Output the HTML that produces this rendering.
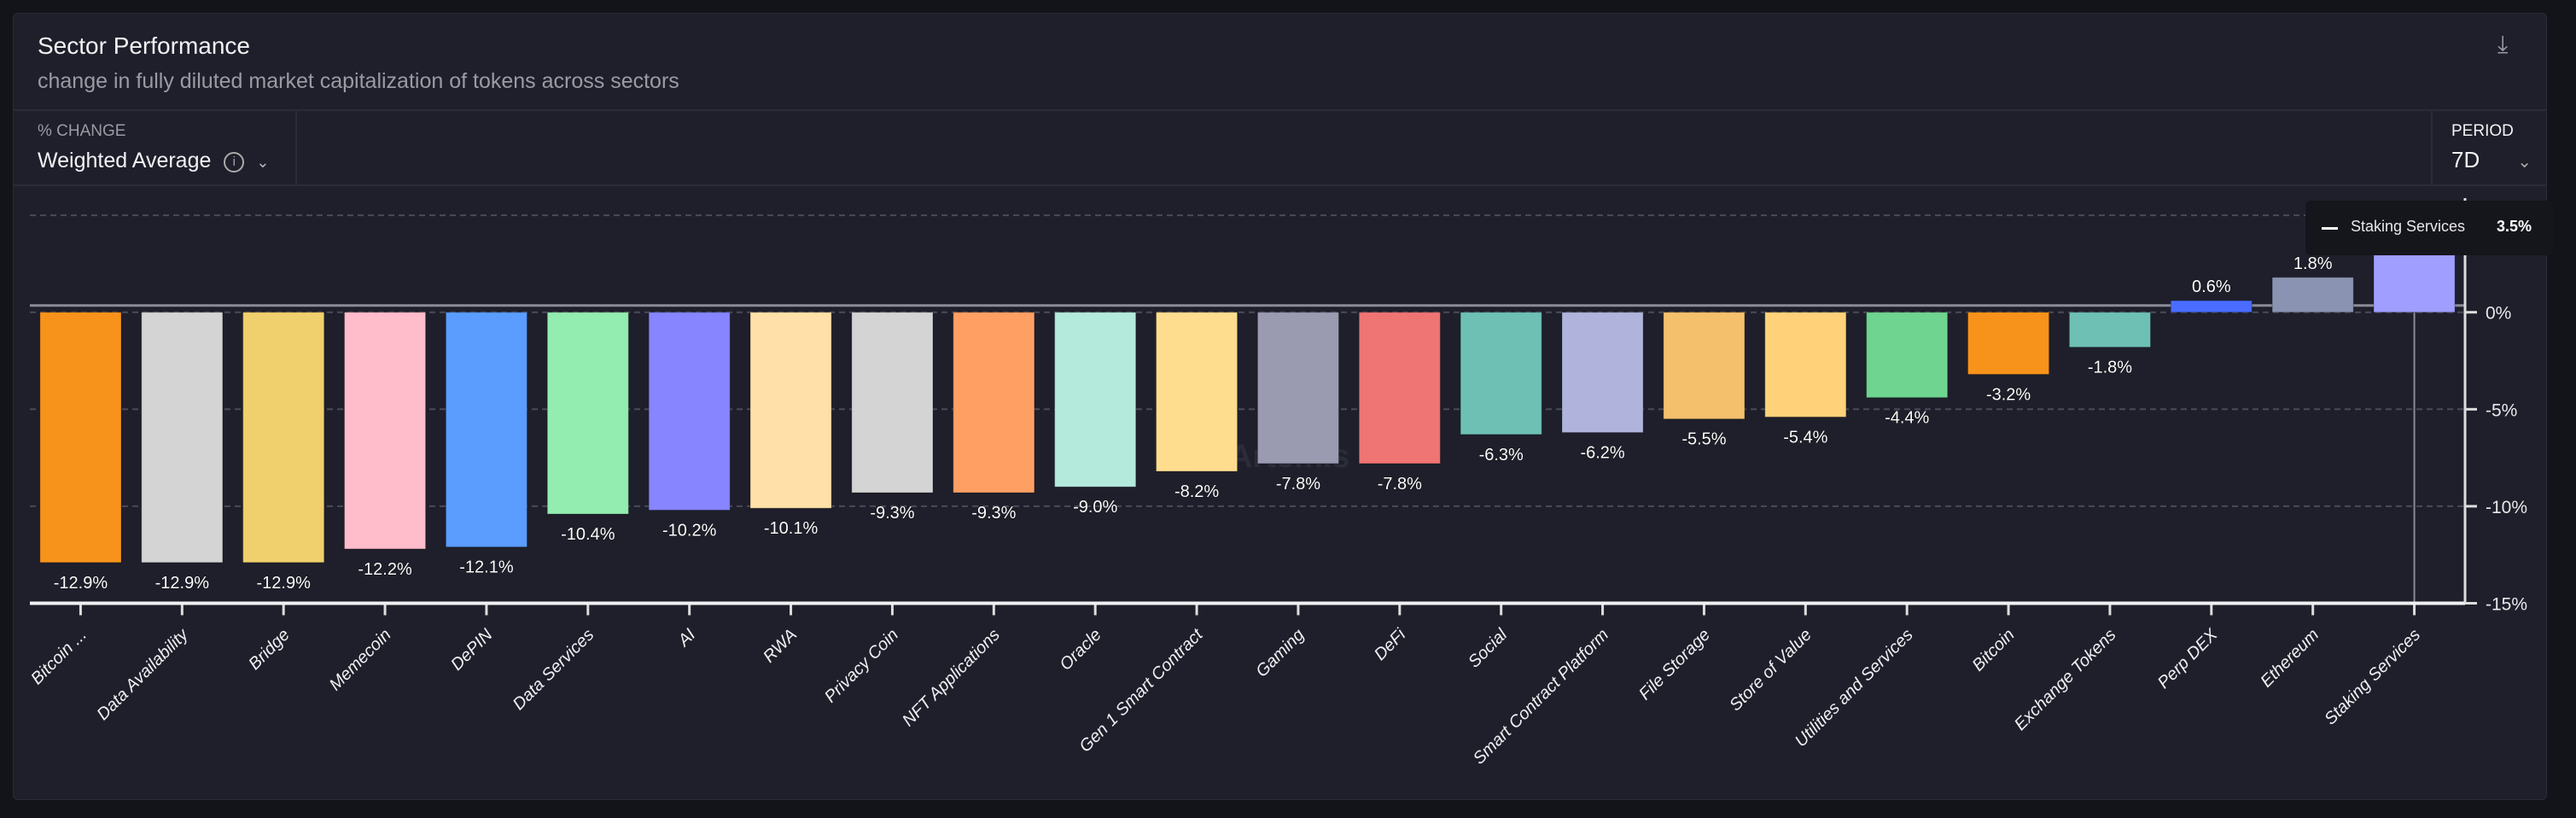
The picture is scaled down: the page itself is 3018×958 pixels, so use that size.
<!DOCTYPE html>
<html><head><meta charset="utf-8">
<style>
html,body{margin:0;padding:0;background:#131419;width:3018px;height:958px;overflow:hidden;font-family:"Liberation Sans",sans-serif;}
#panel{position:absolute;left:15px;top:15px;width:2969px;height:922px;background:#1e1f2b;border:1px solid #2a2b37;border-radius:6px;box-sizing:border-box;}
.t{position:absolute;white-space:nowrap;}
</style></head><body>
<div id="panel"></div>
<div class="t" style="left:44px;top:38px;font-size:28px;color:#f2f2f4;">Sector Performance</div>
<div class="t" style="left:44px;top:81px;font-size:25px;color:#9a9ba3;">change in fully diluted market capitalization of tokens across sectors</div>
<div class="t" style="left:2926px;top:36px;font-size:28px;color:#9a9ba3;">⤓</div>
<div style="position:absolute;left:16px;top:128px;width:2967px;height:2px;background:#2a2b37;"></div>
<div style="position:absolute;left:16px;top:216px;width:2967px;height:2px;background:#2a2b37;"></div>
<div style="position:absolute;left:346px;top:129px;width:2px;height:88px;background:#2a2b37;"></div>
<div style="position:absolute;left:2848px;top:129px;width:2px;height:88px;background:#2a2b37;"></div>
<div class="t" style="left:44px;top:143px;font-size:19px;color:#9a9ba3;">% CHANGE</div>
<div class="t" style="left:44px;top:174px;font-size:25px;color:#f2f2f4;">Weighted Average <span style="display:inline-block;width:20px;height:20px;border:2px solid #aaa;border-radius:50%;font-size:15px;text-align:center;line-height:20px;color:#aaa;margin-left:8px;vertical-align:2px;">i</span><span style="margin-left:14px;font-size:18px;color:#bbb;">⌄</span></div>
<div class="t" style="left:2872px;top:143px;font-size:19px;color:#f2f2f4;">PERIOD</div>
<div class="t" style="left:2872px;top:172px;font-size:26px;color:#f2f2f4;">7D<span style="margin-left:44px;font-size:20px;color:#aaa;">⌄</span></div>
<div class="t" style="left:1395px;top:512px;font-size:38px;font-weight:bold;color:rgba(255,255,255,0.06);">▣ Artemis</div>
<svg id="chart" width="3018" height="958" style="position:absolute;left:0;top:0;"></svg>
<div style="position:absolute;left:2701px;top:235px;width:290px;height:64px;background:#15161c;border-radius:6px;"></div>
<div style="position:absolute;left:2720px;top:266px;width:19px;height:3px;background:#fff;"></div>
<div class="t" style="left:2754px;top:255px;font-size:18px;color:#e8e8ea;">Staking Services</div>
<div class="t" style="left:2925px;top:255px;font-size:18px;font-weight:bold;color:#fff;">3.5%</div>
<script>
const categories=["Bitcoin ...","Data Availability","Bridge","Memecoin","DePIN","Data Services","AI","RWA","Privacy Coin","NFT Applications","Oracle","Gen 1 Smart Contract","Gaming","DeFi","Social","Smart Contract Platform","File Storage","Store of Value","Utilities and Services","Bitcoin","Exchange Tokens","Perp DEX","Ethereum","Staking Services"];
const values=[-12.9,-12.9,-12.9,-12.2,-12.1,-10.4,-10.2,-10.1,-9.3,-9.3,-9.0,-8.2,-7.8,-7.8,-6.3,-6.2,-5.5,-5.4,-4.4,-3.2,-1.8,0.6,1.8,3.5];
const colors=["#f7931a","#d4d4d4","#f0d06c","#ffbccb","#5b9cff","#93ecb0","#8785ff","#ffe0a8","#d4d4d4","#ff9f63","#b4eadc","#ffdd8f","#9a9bb0","#ef7474","#6ec0b4","#b0b4dc","#f5c06c","#ffd27a","#6fd48f","#f7931a","#6ec0b4","#4a6cff","#8a94b2","#a09eff"];
const yTicks=[5,0,-5,-10,-15];
const NS="http://www.w3.org/2000/svg";
const svg=document.getElementById('chart');
const x0=35,x1=2888,band=(x1-x0)/categories.length;
const y=v=>365.7-v*22.72;
const xc=i=>x0+band*(i+0.5);
function el(t,a){const e=document.createElementNS(NS,t);for(const k in a)e.setAttribute(k,a[k]);svg.appendChild(e);return e;}
yTicks.forEach(t=>{
  if(t!==-15){const g=el('line',{x1:x0,x2:x1,y1:y(t),y2:y(t),stroke:'#4a4b58','stroke-width':2,'stroke-dasharray':'7,5'});
  
  }
  if(t<=0){const tk=el('line',{x1:x1,x2:x1+14,y1:y(t),y2:y(t),stroke:'#ddd','stroke-width':3});
  
  
  const lb=el('text',{x:x1+24,y:y(t)+8,fill:'#e8e8ea','font-size':21,'font-family':'Liberation Sans, sans-serif'});lb.textContent=t+'%';
  
  }
});
const zl=el('line',{x1:x0,x2:x1,y1:y(0)-8,y2:y(0)-8,stroke:'#8a8b95','stroke-width':3});


const hl=categories.length-1;
const ch=el('line',{x1:xc(hl),x2:xc(hl),y1:y(0),y2:y(-15),stroke:'#8a8b95','stroke-width':2});


categories.forEach((c,i)=>{
  const v=values[i],bw=band*0.8,top=Math.min(y(0),y(v)),h=Math.abs(y(v)-y(0));
  const r=el('rect',{x:xc(i)-bw/2,y:top,width:bw,height:Math.max(h,2),fill:colors[i],stroke:'rgba(0,0,0,0.25)','stroke-width':1});
  
  
  const vl=el('text',{x:xc(i),y:v<0?y(v)+30:y(v)-10,fill:'#fff','font-size':20,'text-anchor':'middle','font-family':'Liberation Sans, sans-serif',stroke:'#000','stroke-width':0.6,'paint-order':'stroke'});
  vl.textContent=v.toFixed(1)+'%';
  
  
  const tk=el('line',{x1:xc(i),x2:xc(i),y1:y(-15),y2:y(-15)+14,stroke:'#ddd','stroke-width':3});
  
  
  const yy=y(-15)+38, xx=xc(i)+8;
  const xl=el('text',{x:xx,y:yy,fill:'#f0f0f2','font-size':20,'text-anchor':'end','font-style':'italic','font-family':'Liberation Sans, sans-serif',transform:`rotate(-45 ${xx} ${yy})`});
  xl.textContent=c;
  
  
});
const ax=el('line',{x1:x0,x2:x1,y1:y(-15),y2:y(-15),stroke:'#f0f0f2','stroke-width':4});


const ay=el('line',{x1:x1,x2:x1,y1:232,y2:y(-15),stroke:'#ddd','stroke-width':3});


</script>
</body></html>
